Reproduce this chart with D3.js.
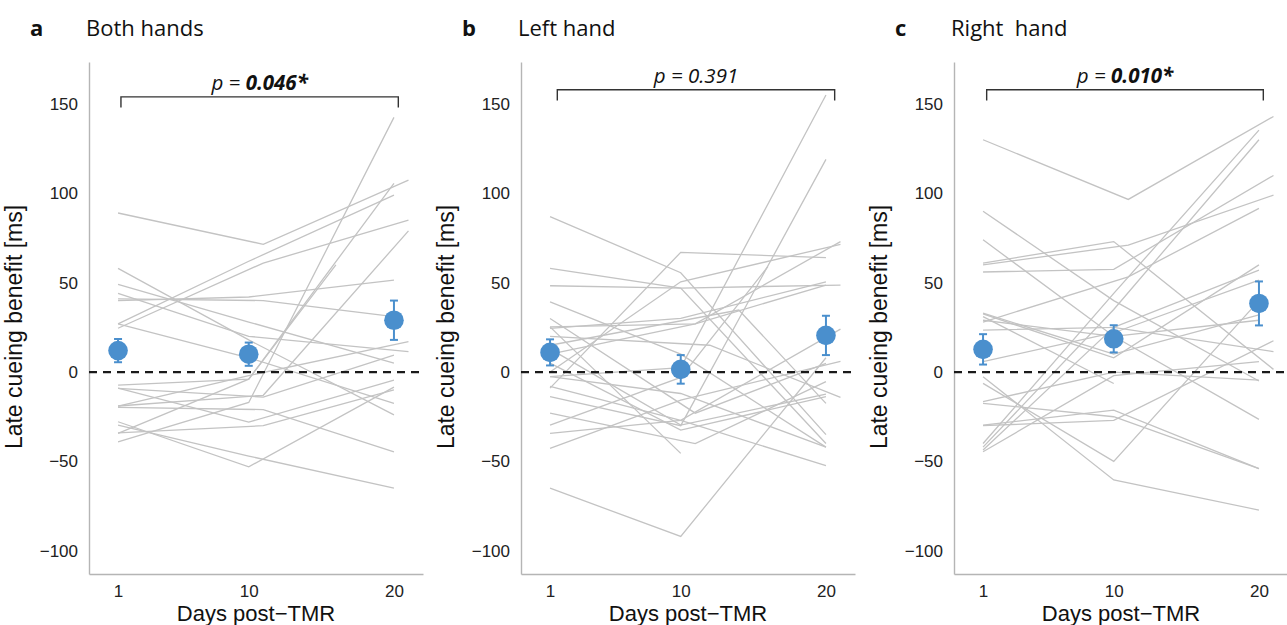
<!DOCTYPE html>
<html>
<head>
<meta charset="utf-8">
<script src="https://cdn.jsdelivr.net/npm/d3@7"></script>
<style>
  body { margin: 0; background: #fff; }
  svg { display: block; }
</style>
</head>
<body>
<div id="app"></div>
<script>
// days and panel labels
const days = [1, 10, 20];
const yTicks = [-100, -50, 0, 50, 100, 150];
const letters = ["a", "b", "c"];
const titles = ["Both hands", "Left hand", "Right  hand"];
const pValues = ["0.046*", "0.391", "0.010*"];
const pBold = [true, false, true];
const bracketSpan = [[1.2, 20.3], [1.5, 20.6], [1.25, 20.3]];
const bracketTop = [154, 158, 158];

// group means and standard errors
const bothMean = [12, 10, 29], bothSem = [6.5, 6.5, 11];
const leftMean = [11, 1.5, 20.5], leftSem = [7.3, 8, 11];
const rightMean = [12.7, 18.6, 38.4], rightSem = [8.5, 7.6, 12.3];

// single subjects: values at day 1, 10, 20 and horizontal jitter (days)
const bothSubj = [
  [89, 71.5, 107.4], [58, 18, -24], [40, 42, 51.5], [41, 40, 31], [49, 28, 5],
  [44, 20, 11.4], [27, 62, 99], [24.5, 61, 85], [-7.3, -4, 60], [-19, -13, 79],
  [-39, -17, 142.5], [-34.3, -4, 105.6], [-9.1, -14, 9.5], [-19.8, -21, -44.6], [-29.7, -47, -65],
  [-27.8, -53, -8.4], [27, 8, -17.5], [-19, -2, 17], [-9, -28, -4.5], [-34, -30, -10]
];
const bothJit = [
  [0, 1, 1], [0, 0, 0], [0, 0, 0], [0, 1, 0], [0, 0, 0],
  [0, 0, 1], [0, 0, 0], [0, 1, 1], [0, 0, -4], [0, 1, 1],
  [0, 0, 0], [0, 0, 0], [0, 1, 0], [0, 1, 0], [0, 0, 0],
  [0, 0, 0], [0, 0, 0], [0, 0, 1], [0, 0, 0], [0, 1, 0]
];

const leftSubj = [
  [87, 55.6, -35], [58, 47, -40], [48.3, 47, 48.7], [-9, 67, 64], [39.3, 10, -42],
  [25.3, 27, 73], [24.5, 30, 50.5], [-65, -92, 8], [-2.6, 2.5, 155], [-13.8, -30, 119],
  [25.3, -45.5, null], [0, 50.5, 71.5], [-29.7, -3, 59], [-34.3, -27, 24], [-42.7, -15.7, 6],
  [13, -29.7, -12.3], [5, -32.5, -13.8], [-23, -40, -5.4], [20, 15, -14.2], [15, 34.7, -17.5],
  [30, -23, 4.8], [-8, -27, -52.4], [10, 27, 48.7], [-2.6, -12, -42]
];
const leftJit = [
  [0, 0, 0], [0, 0, 0], [0, 0, 1], [0, 0, 0], [0, 0, 0],
  [0, 1, 1], [0, 0, 0], [0, 0, 0], [0, 0, 0], [0, 0, 0],
  [0, 0, 0], [0, 0, 1], [0, 0, -4], [0, 0, 1], [0, 0, 1],
  [0, 0, 0], [0, 0, 0], [0, 1, 0], [0, 2, 1], [0, 4, 0],
  [0, 1, 0], [0, 0, 0], [0, 1, 0], [0, 0, 0]
];

const rightSubj = [
  [130, 96.6, 143], [90, 40, -5], [74, 20, -26.5], [61, 73, 1.5], [56, 57.5, 110],
  [60, 71, 99], [-40, 44, 135.4], [-42, 35, 130], [28, 53.3, 91.6], [31, -6.4, null],
  [32.5, 8, 60], [23.5, 25, 57], [5.8, 22, 51.5], [-2.6, -60.4, -77.2], [-6.3, -50, 40],
  [-29.7, -21.3, -54], [-30, -27, 17.5], [33, 10, 32], [29, 20, 29], [-43.6, 25, 11.4],
  [-44.6, -2, 5.8], [-16.6, 0, -4.5], [-17.5, -25, -54]
];
const rightJit = [
  [0, 1, 1], [0, 0, 0], [0, 0, 0], [0, 0, 1], [0, 0, 1],
  [0, 1, 1], [0, 0, 0], [0, 0, 0], [0, 1, 0], [0, 0, 0],
  [0, 0, 0], [0, 0, 0], [0, 0, 0], [0, 0, 0], [0, 0, 0],
  [0, 0, 0], [0, 0, 1], [0, 0, 0], [0, 0, 0], [0, 0, 1],
  [0, 0, 0], [0, 0, 0], [0, 0, 0]
];

const panels = [
  { subj: bothSubj, jit: bothJit, mean: bothMean, sem: bothSem },
  { subj: leftSubj, jit: leftJit, mean: leftMean, sem: leftSem },
  { subj: rightSubj, jit: rightJit, mean: rightMean, sem: rightSem }
];

const width = 1287, height = 625;
const lefts = [89, 521, 954], plotW = 334, plotTop = 62, plotBottom = 574;
const blue = "#4a8fcd", grey = "#c3c3c3";
const axisFont = "'Liberation Sans', Arial, Helvetica, sans-serif";
const headFont = "'Open Sans', 'Noto Sans', sans-serif";

const svg = d3.select("#app").append("svg")
    .attr("width", width)
    .attr("height", height);

panels.forEach((p, i) => {
  const left = lefts[i];
  const x = d3.scaleLinear().domain([-1, 22]).range([left, left + plotW]);
  const y = d3.scaleLinear().domain([-113, 173.5]).range([plotBottom, plotTop]);
  const g = svg.append("g");

  // axes
  const yAxis = g.append("g")
      .attr("transform", `translate(${left},0)`)
      .call(d3.axisLeft(y).tickValues(yTicks).tickSize(0).tickPadding(11));
  const xAxis = g.append("g")
      .attr("transform", `translate(0,${plotBottom})`)
      .call(d3.axisBottom(x).tickValues(days).tickSize(0).tickPadding(11));
  [yAxis, xAxis].forEach(a => {
    a.select(".domain").attr("stroke", "#b5b5b5").attr("stroke-width", 1.4);
    a.selectAll("text")
      .attr("font-family", axisFont)
      .attr("font-size", 17)
      .attr("fill", "#222");
  });

  // subject lines
  const line = d3.line()
      .defined(d => d.v != null)
      .x(d => x(d.day))
      .y(d => y(d.v));
  g.append("g").selectAll("path")
      .data(p.subj.map((s, k) => s.map((v, j) => ({ day: days[j] + p.jit[k][j], v }))))
    .enter().append("path")
      .attr("d", line)
      .attr("fill", "none")
      .attr("stroke", grey)
      .attr("stroke-width", 1.3);

  // zero line
  g.append("line")
      .attr("x1", x(-1)).attr("x2", x(22))
      .attr("y1", y(0)).attr("y2", y(0))
      .attr("stroke", "#1a1a1a")
      .attr("stroke-width", 2.2)
      .attr("stroke-dasharray", "8,6");

  // means with error bars
  const m = days.map((d, j) => ({ day: d, mean: p.mean[j], sem: p.sem[j] }));
  const eb = g.append("g").selectAll("g").data(m).enter().append("g");
  eb.append("line")
      .attr("x1", d => x(d.day)).attr("x2", d => x(d.day))
      .attr("y1", d => y(d.mean - d.sem)).attr("y2", d => y(d.mean + d.sem))
      .attr("stroke", blue).attr("stroke-width", 2);
  [-1, 1].forEach(s => {
    eb.append("line")
        .attr("x1", d => x(d.day) - 4).attr("x2", d => x(d.day) + 4)
        .attr("y1", d => y(d.mean + s * d.sem)).attr("y2", d => y(d.mean + s * d.sem))
        .attr("stroke", blue).attr("stroke-width", 2);
  });
  eb.append("circle")
      .attr("cx", d => x(d.day)).attr("cy", d => y(d.mean))
      .attr("r", 9.8)
      .attr("fill", blue);

  // significance bracket
  const [b0, b1] = bracketSpan[i];
  const bt = bracketTop[i];
  g.append("path")
      .attr("d", `M${x(b0)},${y(bt - 6)}V${y(bt)}H${x(b1)}V${y(bt - 6)}`)
      .attr("fill", "none")
      .attr("stroke", "#333")
      .attr("stroke-width", 1.4);
  const pt = g.append("text")
      .attr("x", (x(b0) + x(b1)) / 2)
      .attr("y", y(bt) - 7)
      .attr("text-anchor", "middle")
      .attr("font-family", headFont)
      .attr("font-size", 20.5)
      .attr("font-style", "italic")
      .attr("fill", "#111");
  pt.append("tspan").text("p = ");
  pt.append("tspan")
      .attr("font-weight", pBold[i] ? "bold" : "normal")
      .text(pValues[i]);

  // axis titles
  g.append("text")
      .attr("transform", `translate(${left - 67},327) rotate(-90)`)
      .attr("text-anchor", "middle")
      .attr("font-family", axisFont)
      .attr("font-size", 23)
      .attr("fill", "#111")
      .text("Late cueing benefit [ms]");
  g.append("text")
      .attr("x", left + plotW / 2)
      .attr("y", 621)
      .attr("text-anchor", "middle")
      .attr("font-family", axisFont)
      .attr("font-size", 22)
      .attr("fill", "#111")
      .text("Days post\u2212TMR");

  // panel header
  g.append("text")
      .attr("x", left - 59)
      .attr("y", 36)
      .attr("font-family", headFont)
      .attr("font-size", 22)
      .attr("font-weight", "bold")
      .attr("fill", "#111")
      .text(letters[i]);
  g.append("text")
      .attr("x", left - 3)
      .attr("y", 36)
      .attr("font-family", headFont)
      .attr("font-size", 22)
      .attr("fill", "#111")
      .style("white-space", "pre")
      .text(titles[i]);
});
</script>
</body>
</html>
